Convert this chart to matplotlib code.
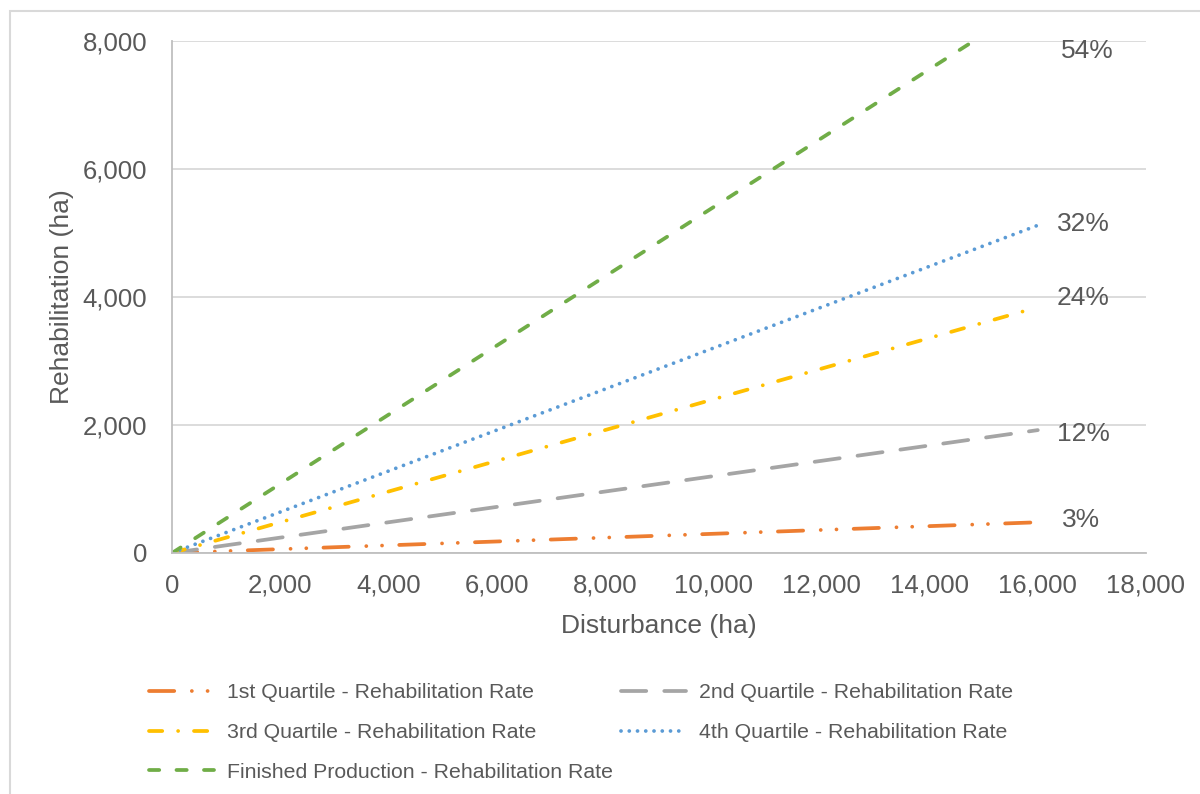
import matplotlib
matplotlib.use("Agg")
import matplotlib.pyplot as plt
from matplotlib.patches import Rectangle
from matplotlib.ticker import FuncFormatter, MultipleLocator
import numpy as np

plt.rcParams['font.family'] = ['Liberation Sans', 'DejaVu Sans']

# Rehabilitation rate lines: rehabilitation = rate * disturbance
series_names = [
    "1st Quartile - Rehabilitation Rate",
    "2nd Quartile - Rehabilitation Rate",
    "3rd Quartile - Rehabilitation Rate",
    "4th Quartile - Rehabilitation Rate",
    "Finished Production - Rehabilitation Rate",
]
rates = [0.03, 0.12, 0.24, 0.32, 0.54]
rate_labels = ["3%", "12%", "24%", "32%", "54%"]
disturbance = [0, 16000]

colors = ["#ED7D31", "#A5A5A5", "#FFC000", "#5B9BD5", "#70AD47"]
# dash patterns in units of line width (round caps)
styles = [
    (0, (6.73, 4.69, 0.01, 4.19, 0.01, 4.58)),  # long dash - dot - dot
    (0, (6.73, 4.81)),                          # long dash
    (0, (3.53, 4.23, 0.01, 4.23)),              # dash - dot
    (0, (0.01, 2.19)),                          # round dot
    (0, (2.73, 4.6)),                           # dash
]

text_color = "#595959"
line_w = 2.7

fig = plt.figure(figsize=(12, 7.94), dpi=100)
ax = fig.add_axes([172 / 1200, 1 - 553 / 794, (1146 - 172) / 1200, (553 - 41) / 794])

lines = []
for name, r, c, ls in zip(series_names, rates, colors, styles):
    x = np.array(disturbance, dtype=float)
    (ln,) = ax.plot(x, r * x, color=c, lw=line_w, linestyle=ls, label=name,
                    dash_capstyle="round", solid_capstyle="round")
    lines.append(ln)

# Percentage annotations at the right end of each line
label_pos_x = [16450, 16350, 16350, 16350, 16420]
label_pos_y = [520, 1856, 3981, 5137, 7850]
for lab, xv, yv in zip(rate_labels, label_pos_x, label_pos_y):
    ax.text(xv, yv, lab, fontsize=19, color=text_color, va="center", ha="left")

ax.set_xlim(0, 18000)
ax.set_ylim(0, 8000)
ax.xaxis.set_major_locator(MultipleLocator(2000))
ax.yaxis.set_major_locator(MultipleLocator(2000))
fmt = FuncFormatter(lambda v, p: f"{int(v):,}")
ax.xaxis.set_major_formatter(fmt)
ax.yaxis.set_major_formatter(fmt)

ax.grid(axis="y", color="#D9D9D9", lw=1.3)
ax.set_axisbelow(True)
for s in ["top", "right"]:
    ax.spines[s].set_visible(False)
for s in ["left", "bottom"]:
    ax.spines[s].set_color("#BFBFBF")
    ax.spines[s].set_linewidth(1.3)
ax.tick_params(length=0, labelsize=18.5, labelcolor=text_color)
ax.tick_params(axis="y", pad=18)
ax.tick_params(axis="x", pad=15)

ax.set_xlabel("Disturbance (ha)", fontsize=19, color=text_color, labelpad=12)
ax.set_ylabel("Rehabilitation (ha)", fontsize=19, color=text_color, labelpad=6)

# Legend: two columns, filled column-first
order = [0, 2, 4, 1, 3]
leg = fig.legend([lines[i] for i in order], [series_names[i] for i in order],
                 ncol=2, loc="upper left", bbox_to_anchor=(130 / 1200, 1 - 664 / 794),
                 frameon=False, fontsize=15.3, labelcolor=text_color,
                 handlelength=3.06, handletextpad=0.6, columnspacing=0.4,
                 labelspacing=0.98)

# Outer chart border
fig.patches.append(Rectangle((10 / 1200, -0.05), 1.1, 1 - 11 / 794 + 0.05,
                             transform=fig.transFigure, fill=False,
                             edgecolor="#D9D9D9", lw=1.5))

fig.savefig("out.png", dpi=100)
